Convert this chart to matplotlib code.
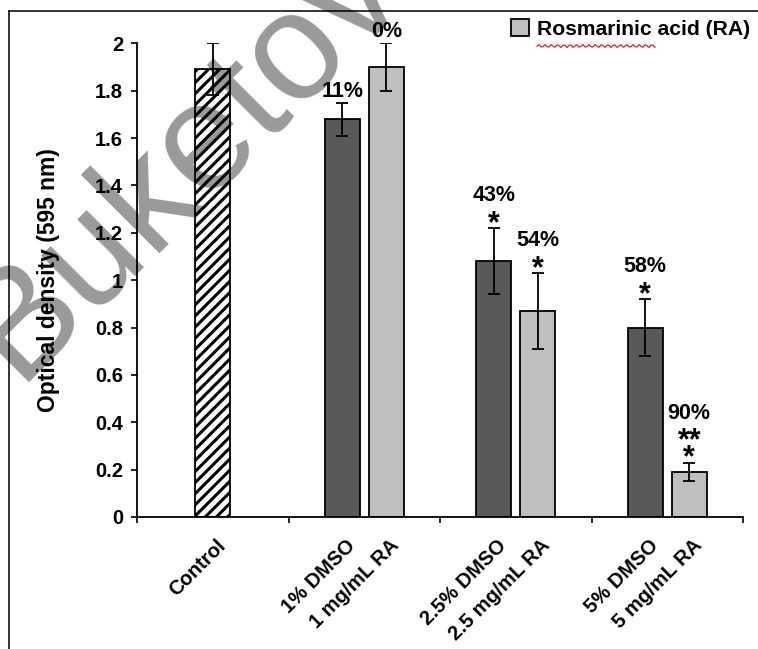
import matplotlib
matplotlib.use('Agg')
import matplotlib.pyplot as plt
import numpy as np
from matplotlib.patches import Patch
from matplotlib.lines import Line2D

plt.rcParams['font.family'] = ['Liberation Sans', 'DejaVu Sans']
plt.rcParams['font.weight'] = 'bold'
plt.rcParams['hatch.linewidth'] = 2.2

# Data
control_label = 'Control'
control_mean = 1.89
control_err = 0.11

dmso_labels = ['1% DMSO', '2.5% DMSO', '5% DMSO']
dmso_mean = [1.68, 1.08, 0.80]
dmso_err = [0.07, 0.14, 0.12]
dmso_pct = ['11%', '43%', '58%']
dmso_stars = [[], ['*'], ['*']]

ra_labels = ['1 mg/mL RA', '2.5 mg/mL RA', '5 mg/mL RA']
ra_mean = [1.90, 0.87, 0.19]
ra_err = [0.10, 0.16, 0.04]
ra_pct = ['0%', '54%', '90%']
ra_stars = [[], ['*'], ['**', '*']]

yticks = [0, 0.2, 0.4, 0.6, 0.8, 1, 1.2, 1.4, 1.6, 1.8, 2]
ytick_labels = ['0', '0.2', '0.4', '0.6', '0.8', '1', '1.2', '1.4', '1.6', '1.8', '2']

dark = '#595959'
light = '#bfbfbf'

W, H = 758, 649
fig = plt.figure(figsize=(W / 100, H / 100), dpi=100)
ax = fig.add_axes([137 / W, 1 - 517 / H, 606 / W, (517 - 43.3) / H])

bw = 0.231
off = 0.145
err_kw = dict(ecolor='black', elinewidth=1.3, capsize=4, capthick=1.3)

ax.bar([0], [control_mean], width=bw, yerr=[control_err], color='white',
       edgecolor='black', linewidth=1.3, hatch='///', error_kw=err_kw, zorder=2)

xg = np.arange(1, 4)
ax.bar(xg - off, dmso_mean, width=bw, yerr=dmso_err, color=dark,
       edgecolor='black', linewidth=1.3, error_kw=err_kw, zorder=2)
ax.bar(xg + off, ra_mean, width=bw, yerr=ra_err, color=light,
       edgecolor='black', linewidth=1.3, error_kw=err_kw, zorder=2)

ax.set_xlim(-0.5, 3.5)
ax.set_ylim(0, 2)
ax.set_yticks(yticks)
ax.set_yticklabels(ytick_labels, fontsize=14.5, fontweight='bold')
ax.set_xticks([])
ax.set_xticks(np.arange(-0.5, 4, 1), minor=True)
ax.tick_params(axis='x', which='minor', direction='out', length=4, width=1.2)
ax.tick_params(axis='y', direction='out', length=4, width=1.2, pad=6)
for s in ['top', 'right']:
    ax.spines[s].set_visible(False)
for s in ['left', 'bottom']:
    ax.spines[s].set_linewidth(1.3)

ax.set_ylabel('Optical density (595 nm)', fontsize=16.5, fontweight='bold', labelpad=25)


# Annotations above error bars
def annotate(x, top, pct, stars):
    if stars:
        for i, row in enumerate(reversed(stars)):
            y = -4 + i * 17
            ax.annotate(row, xy=(x, top), xytext=(0, y), textcoords='offset pixels',
                        ha='center', va='baseline', fontsize=22, fontweight='bold')
        y += 31
    else:
        y = 6
    ax.annotate(pct, xy=(x, top), xytext=(0, y), textcoords='offset pixels',
                ha='center', va='baseline', fontsize=15.5, fontweight='bold')


for i in range(3):
    annotate(xg[i] - off, dmso_mean[i] + dmso_err[i], dmso_pct[i], dmso_stars[i])
    annotate(xg[i] + off, ra_mean[i] + ra_err[i], ra_pct[i], ra_stars[i])

# Category labels, rotated under each bar
xlab_pos = [0] + [v for i in range(3) for v in (xg[i] - off, xg[i] + off)]
xlab_txt = [control_label] + [v for i in range(3) for v in (dmso_labels[i], ra_labels[i])]
for xp, t in zip(xlab_pos, xlab_txt):
    ax.annotate(t, xy=(xp, 0), xycoords=('data', 'axes fraction'),
                xytext=(3, -19), textcoords='offset pixels', rotation=45,
                rotation_mode='anchor', ha='right', va='top',
                fontsize=14.5, fontweight='bold')

# Legend
fig.legend(handles=[Patch(facecolor=light, edgecolor='black', linewidth=1.3)],
           labels=['Rosmarinic acid (RA)'], loc='upper left',
           bbox_to_anchor=(511 / W, 1 - 19 / H), frameon=False,
           handlelength=0.85, handleheight=0.85, handletextpad=0.4,
           borderpad=0, borderaxespad=0, prop={'size': 15.2, 'weight': 'bold'})

# spell-check squiggle under "Rosmarinic"
sx = np.linspace(537, 655, 60)
sy = 46 + 1.5 * np.sin(sx)
fig.add_artist(Line2D(sx / W, 1 - sy / H, color='red', lw=0.8))

# Outer frame lines
fig.add_artist(Line2D([9 / W, 9 / W], [0, 1 - 11 / H], color='#111111', lw=1.2))
fig.add_artist(Line2D([9 / W, 1], [1 - 11 / H, 1 - 11 / H], color='#111111', lw=1.2))

# Watermark
fig.text(184 / W, 1 - 160 / H, 'Buketov', fontsize=110, fontweight='normal',
         color='black', alpha=0.4, rotation=45, rotation_mode='anchor',
         ha='center', va='center', zorder=10)

fig.savefig('out.png', dpi=100)
